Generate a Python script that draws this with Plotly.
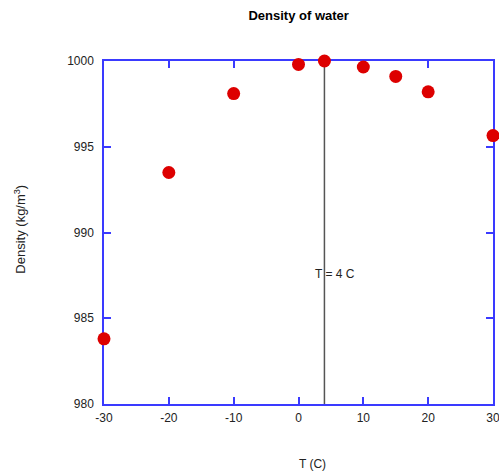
import plotly.graph_objects as go

temps = [-30, -20, -10, 0, 4, 10, 15, 20, 30]
density = [983.8, 993.5, 998.1, 999.8, 1000.0, 999.65, 999.1, 998.2, 995.65]
x_ticks = [-30, -20, -10, 0, 10, 20, 30]
x_ticktext = ["-30", "-20", "-10", "0", "10", "20", "30"]
y_ticks = [980, 985, 990, 995, 1000]
y_ticktext = ["980", "985", "990", "995", "1000"]
t_max = 4

fig = go.Figure()
fig.add_trace(go.Scatter(
    x=[t_max, t_max], y=[980, 1000], mode="lines",
    line=dict(color="#555555", width=1.5), showlegend=False, hoverinfo="skip"))
fig.add_trace(go.Scatter(
    x=temps, y=density, mode="markers",
    marker=dict(color="#dd0000", size=13), cliponaxis=False, showlegend=False))

axis_common = dict(showgrid=False, zeroline=False, showline=True, linecolor="#3a3aff",
                   linewidth=1.5, mirror="allticks", ticks="inside", ticklen=7,
                   tickcolor="#3a3aff", tickwidth=1.5, automargin=False,
                   ticklabeloverflow="allow", layer="below traces",
                   tickfont=dict(family="Liberation Sans, Arial", size=12, color="#222"))
fig.update_xaxes(range=[-30, 30], tickvals=x_ticks, ticktext=x_ticktext,
                 ticklabelstandoff=2, **axis_common)
fig.update_yaxes(range=[980, 1000], tickvals=y_ticks, ticktext=y_ticktext,
                 ticklabelstandoff=6, **axis_common)

fig.add_annotation(x=t_max, y=987.6, text="T = 4 C", showarrow=False, xanchor="left",
                   xshift=-11, font=dict(family="Liberation Sans, Arial", size=12, color="#222"))
fig.add_annotation(xref="paper", yref="paper", x=0.535, y=-0.175, yanchor="middle",
                   text="T (C)", showarrow=False,
                   font=dict(family="Liberation Sans, Arial", size=12, color="#222"))
fig.add_annotation(xref="paper", yref="paper", x=-0.217, y=0.51, textangle=-90,
                   xanchor="center", yanchor="middle",
                   text="Density (kg/m<sup>3</sup>)", showarrow=False,
                   font=dict(family="Liberation Sans, Arial", size=13, color="#222"))

fig.update_layout(
    width=499, height=472,
    margin=dict(l=104, r=6, t=61, b=68),
    plot_bgcolor="white", paper_bgcolor="white",
    title=dict(text="<b>Density of water</b>", x=0.5985, xanchor="center", y=0.968, yanchor="middle",
               font=dict(family="Liberation Sans, Arial", size=13, color="black")),
)
fig.write_html("out.html", config={"displayModeBar": False},
               post_script="document.body.style.margin='0';document.body.style.overflow='hidden';")
